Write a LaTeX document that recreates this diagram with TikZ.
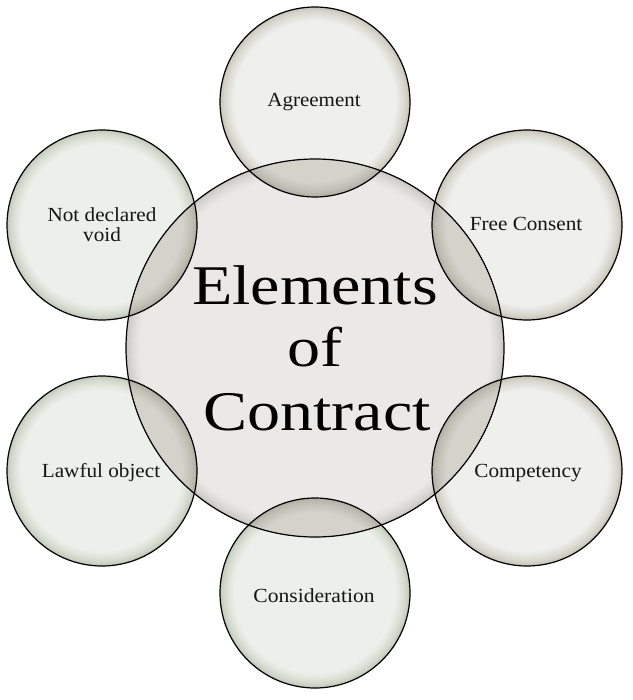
\documentclass[tikz,border=0pt]{standalone}
\usepackage{fontspec}
\setmainfont{Liberation Serif}
\definecolor{bin}{HTML}{EFEFEC}
\definecolor{bout}{HTML}{BFBFB1}
\definecolor{min}{HTML}{EBE9E8}
\definecolor{mout}{HTML}{C4C2BC}
\definecolor{gin}{HTML}{EDF0EA}
\definecolor{gout}{HTML}{BCC4B3}
\definecolor{oin}{HTML}{D3D2CB}
\definecolor{oout}{HTML}{ABAB9E}
\definecolor{txt}{HTML}{151515}
\tikzset{
  rim/.style={draw=black, line width=1.2pt},
  lbl/.style={anchor=base, inner sep=0pt, text=txt, font=\fontsize{20}{20}\selectfont},
  big/.style={anchor=base, inner sep=0pt, text=black, font=\fontsize{56}{56}\selectfont}
}
\newcommand{\wide}[2]{\scalebox{#1}[1]{#2}}
% \bubblefill{center}{radius}{inner colour}{outer colour}
\newcommand{\bubblefill}[4]{%
  \foreach \i in {0,...,14} {%
    \pgfmathtruncatemacro{\pct}{100*(\i/14)^0.6}%
    \pgfmathsetmacro{\rr}{#2-\i}%
    \fill[#3!\pct!#4] (#1) circle[radius=\rr];
  }%
}
\begin{document}
\begin{tikzpicture}[x=1pt,y=-1pt]
\useasboundingbox (0,0) rectangle (632,700);
\fill[white] (0,0) rectangle (632,700);
\coordinate (main) at (315,348);
\coordinate (agr) at (315,102);
\coordinate (free) at (527,225);
\coordinate (comp) at (527,471);
\coordinate (cons) at (315,593);
\coordinate (law) at (102,471);
\coordinate (void) at (102,225);
\bubblefill{main}{189}{min}{mout}
\bubblefill{agr}{95}{bin}{bout}
\bubblefill{free}{95}{bin}{bout}
\bubblefill{comp}{95}{bin}{bout}
\bubblefill{cons}{95}{gin}{gout}
\bubblefill{law}{95}{gin}{gout}
\bubblefill{void}{95}{gin}{gout}
\begin{scope}
  \clip (main) circle[radius=189];
  \bubblefill{agr}{95}{oin}{oout}
  \bubblefill{free}{95}{oin}{oout}
  \bubblefill{comp}{95}{oin}{oout}
  \bubblefill{cons}{95}{oin}{oout}
  \bubblefill{law}{95}{oin}{oout}
  \bubblefill{void}{95}{oin}{oout}
\end{scope}
\draw[rim] (main) circle[radius=189];
\draw[rim] (agr) circle[radius=95];
\draw[rim] (free) circle[radius=95];
\draw[rim] (comp) circle[radius=95];
\draw[rim] (cons) circle[radius=95];
\draw[rim] (law) circle[radius=95];
\draw[rim] (void) circle[radius=95];
\node[big] (t1) at (315,304) {\wide{1.18}{Elements}};
\node[big] (t2) at (315,366) {\wide{1.18}{of}};
\node[big] (t3) at (317,430) {\wide{1.18}{Contract}};
\node[lbl] (lagr) at (314,107) {\wide{1.05}{Agreement}};
\node[lbl] (lfree) at (526,231) {\wide{1.06}{Free Consent}};
\node[lbl] (lcomp) at (528,477) {\wide{1.06}{Competency}};
\node[lbl] (lcons) at (314,602) {\wide{1.08}{Consideration}};
\node[lbl] (llaw) at (101,477) {\wide{1.06}{Lawful object}};
\node[lbl] (lvoid1) at (102,222) {\wide{1.06}{Not declared}};
\node[lbl] (lvoid2) at (102,242) {\wide{1.06}{void}};
\end{tikzpicture}
\end{document}
